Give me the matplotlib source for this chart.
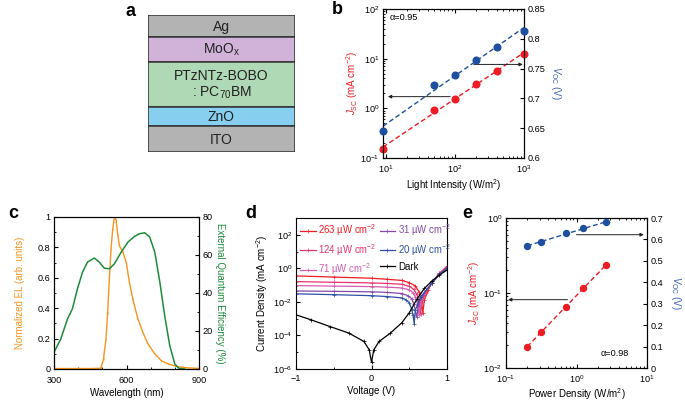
import numpy as np
import matplotlib
matplotlib.use("Agg")
from matplotlib import pyplot as plt
from matplotlib.patches import Rectangle
from matplotlib.ticker import StrMethodFormatter, MultipleLocator, LogLocator, FixedLocator, NullFormatter

plt.rcParams["font.family"] = ["Liberation Sans", "DejaVu Sans"]
plt.rcParams["mathtext.fontset"] = "custom"
plt.rcParams["mathtext.rm"] = "Liberation Sans"
plt.rcParams["mathtext.it"] = "Liberation Sans:italic"
plt.rcParams["mathtext.bf"] = "Liberation Sans:bold"
plt.rcParams["font.size"] = 6.6
plt.rcParams["axes.linewidth"] = 0.8
plt.rcParams["xtick.direction"] = "in"
plt.rcParams["ytick.direction"] = "in"
plt.rcParams["xtick.major.size"] = 3
plt.rcParams["ytick.major.size"] = 3
plt.rcParams["xtick.minor.size"] = 1.6
plt.rcParams["ytick.minor.size"] = 1.6
plt.rcParams["xtick.major.pad"] = 3.5
plt.rcParams["ytick.major.pad"] = 2.5

RED = "#EE1C25"
BLUE = "#1F4FA0"
ORANGE = "#F7941D"
GREEN = "#1E8B3A"

# ---- panel a: device stack (top to bottom)
layer_names = ["Ag", "MoO$_\\mathrm{x}$", "PTzNTz-BOBO\n: PC$_{70}$BM", "ZnO", "ITO"]
layer_thick = [22, 25, 45, 19, 26]
layer_colors = ["#B3B3B3", "#D1B3D9", "#AFD8B4", "#86CFEF", "#B3B3B3"]

# ---- panel b: light intensity dependence
b_int = [9, 50, 100, 200, 400, 1000]
b_jsc = [0.152, 0.94, 1.54, 3.04, 5.56, 12.6]
b_voc = [0.646, 0.7225, 0.740, 0.765, 0.786, 0.8136]

# ---- panel c: EL and EQE spectra
el_wl = [300, 350, 400, 450, 494, 505, 515, 522, 529, 536, 543, 550, 557, 564, 571, 585,
         599, 612, 626, 647, 668, 689, 717, 744, 772, 814, 856, 900]
el_val = [0.003, 0.003, 0.003, 0.003, 0.005, 0.066, 0.2, 0.37, 0.59, 0.79, 0.92, 1.0, 0.98,
          0.88, 0.81, 0.77, 0.70, 0.57, 0.46, 0.33, 0.24, 0.165, 0.10, 0.055, 0.033, 0.015,
          0.007, 0.004]
eqe_wl = [300, 328, 356, 376, 397, 418, 439, 467, 487, 508, 529, 550, 578, 606, 633, 654,
          675, 696, 717, 738, 758, 779, 800, 817, 842]
eqe_val = [8.8, 15.8, 26.4, 31.6, 42.2, 51, 56.3, 58.4, 56.3, 53.1, 52.7, 55.4, 61.5, 66.8,
           69.8, 71.2, 71.7, 69.5, 61.5, 45.7, 28.1, 12.3, 2.6, 0.35, 0.0]

# ---- panel d: J-V curves (log10 of |J|)
d_labels = ["263 µW cm$^{-2}$", "124 µW cm$^{-2}$", "71 µW cm$^{-2}$",
            "31 µW cm$^{-2}$", "20 µW cm$^{-2}$", "Dark"]
d_colors = ["#EE1C25", "#E8336D", "#D45CB0", "#8548A8", "#2E4FA3", "black"]
d_v = [
    [-1, -0.5, 0, 0.2, 0.4, 0.5, 0.58, 0.63, 0.66, 0.68, 0.7, 0.75, 0.8, 0.9, 1.0],
    [-1, -0.5, 0, 0.2, 0.4, 0.5, 0.56, 0.6, 0.63, 0.65, 0.67, 0.72, 0.8, 0.9, 1.0],
    [-1, -0.5, 0, 0.2, 0.4, 0.5, 0.55, 0.58, 0.61, 0.63, 0.65, 0.7, 0.8, 0.9, 1.0],
    [-1, -0.5, 0, 0.2, 0.4, 0.48, 0.53, 0.56, 0.58, 0.6, 0.62, 0.68, 0.8, 0.9, 1.0],
    [-1, -0.5, 0, 0.2, 0.4, 0.46, 0.5, 0.53, 0.55, 0.565, 0.58, 0.65, 0.8, 0.9, 1.0],
    [-1, -0.8, -0.55, -0.3, -0.1, -0.03, 0, 0.03, 0.1, 0.25, 0.4, 0.5, 0.6, 0.7, 0.8, 0.9, 1.0],
]
d_logj = [
    [-0.45, -0.52, -0.59, -0.65, -0.72, -0.85, -1.05, -1.4, -1.9, -2.65, -1.9, -1.3, -0.85, -0.3, 0.12],
    [-0.79, -0.83, -0.87, -0.9, -0.95, -1.07, -1.25, -1.55, -2.0, -2.7, -2.0, -1.45, -0.85, -0.3, 0.08],
    [-1.03, -1.06, -1.09, -1.12, -1.17, -1.28, -1.45, -1.7, -2.15, -2.8, -2.1, -1.5, -0.85, -0.32, 0.05],
    [-1.35, -1.37, -1.4, -1.43, -1.5, -1.62, -1.8, -2.1, -2.5, -2.9, -2.2, -1.6, -0.88, -0.33, 0.02],
    [-1.52, -1.57, -1.63, -1.68, -1.76, -1.88, -2.05, -2.4, -2.8, -3.3, -2.5, -1.7, -0.9, -0.35, 0.0],
    [-2.77, -3.07, -3.47, -3.86, -4.36, -4.86, -5.6, -4.86, -4.36, -3.86, -3.25, -2.65, -1.85, -1.2, -0.75, -0.4, -0.1],
]

# ---- panel e: power density dependence
e_pow = [0.2, 0.31, 0.71, 1.24, 2.63]
e_jsc = [0.019, 0.030, 0.066, 0.115, 0.236]
e_voc = [0.568, 0.590, 0.628, 0.652, 0.680]

W, H = 685, 401
fig = plt.figure(figsize=(W / 100, H / 100), dpi=100)


def px_axes(x0, y0, x1, y1):
    return fig.add_axes([x0 / W, 1 - y1 / H, (x1 - x0) / W, (y1 - y0) / H])


def arrow(ax, start, end):
    ax.annotate("", xy=end, xytext=start,
                arrowprops=dict(arrowstyle="-|>", color="#222222", lw=0.7,
                                mutation_scale=5, shrinkA=0, shrinkB=0))


def loglin_fit(x, y, logy):
    lx = np.log10(x)
    yy = np.log10(y) if logy else np.asarray(y)
    p = np.polyfit(lx, yy, 1)
    return p


# panel a
ax = px_axes(148, 15, 295, 152)
ax.set_xlim(0, 1)
total = sum(layer_thick)
ax.set_ylim(total, 0)
ax.axis("off")
top = 0
for name, th, col in zip(layer_names, layer_thick, layer_colors):
    ax.add_patch(Rectangle((0, top), 1, th, facecolor=col, edgecolor="#333333", lw=1.1))
    ax.text(0.5, top + th / 2 + 0.5, name, ha="center", va="center", fontsize=10,
            linespacing=1.15, color="#222222")
    top += th
fig.text(125 / W, 1 - 12 / H, "a", fontsize=13, fontweight="bold", ha="left", va="center")

# panel b
ax = px_axes(383, 9, 524, 158)
ax.set_xscale("log")
ax.set_yscale("log")
ax.set_xlim(9, 1000)
ax.set_ylim(0.1, 100)
ax2 = ax.twinx()
ax2.set_ylim(0.6, 0.85)
xf = np.array([9, 1000])
p = loglin_fit(b_int, b_jsc, True)
ax.plot(xf, 10 ** np.polyval(p, np.log10(xf)), "--", color=RED, lw=1.0, dashes=(3.5, 2))
ax.plot(b_int, b_jsc, "o", color=RED, ms=4.8, clip_on=False, zorder=5)
p = loglin_fit(b_int, b_voc, False)
ax2.plot(xf, np.polyval(p, np.log10(xf)), "--", color=BLUE, lw=1.0, dashes=(3.5, 2))
ax2.plot(b_int, b_voc, "o", color=BLUE, ms=4.8, clip_on=False, zorder=5)
arrow(ax, (85, 1.72), (10.6, 1.72))
arrow(ax2, (187, 0.757), (960, 0.757))
ax.text(0.05, 0.94, "α=0.95", transform=ax.transAxes, ha="left", va="center", fontsize=6.6)
ax.set_xlabel("Light Intensity (W/m$^2$)", fontsize=7, labelpad=2)
ax.set_ylabel("$J_{\\mathrm{SC}}$ (mA cm$^{-2}$)", color=RED, fontsize=7, labelpad=0.5)
ax2.set_ylabel("$V_{\\mathrm{OC}}$ (V)", color="#3A62B0", fontsize=7, rotation=270, labelpad=13)
ax2.yaxis.set_major_locator(MultipleLocator(0.05))
ax2.yaxis.set_major_formatter(StrMethodFormatter("{x:g}"))
ax2.tick_params(axis="y", direction="in")
ax.tick_params(which="both", top=True)
ax.yaxis.set_minor_locator(LogLocator(base=10, subs=np.arange(2, 10)))
ax.yaxis.set_minor_formatter(NullFormatter())
fig.text(332 / W, 1 - 10 / H, "b", fontsize=13, fontweight="bold", ha="left", va="center")

# panel c
ax = px_axes(54, 217, 199, 369)
ax.plot(el_wl, el_val, "-", marker="|", ms=1.8, mew=0.4, color=ORANGE, lw=1.0)
ax.set_xlim(300, 900)
ax.set_ylim(0, 1)
ax.xaxis.set_major_locator(MultipleLocator(300))
ax.xaxis.set_minor_locator(MultipleLocator(100))
ax.yaxis.set_major_locator(MultipleLocator(0.2))
ax.yaxis.set_minor_locator(MultipleLocator(0.1))
ax.yaxis.set_major_formatter(StrMethodFormatter("{x:g}"))
ax.tick_params(axis="x", pad=5)
ax.set_xlabel("Wavelength (nm)", fontsize=7, labelpad=2)
ax.set_ylabel("Normalized EL (arb. units)", color=ORANGE, fontsize=7, labelpad=9)
ax2 = ax.twinx()
ax2.plot(eqe_wl, eqe_val, "-", color=GREEN, lw=1.1)
ax2.set_ylim(0, 80)
ax2.yaxis.set_major_locator(MultipleLocator(20))
ax2.yaxis.set_minor_locator(MultipleLocator(10))
ax2.tick_params(which="both", direction="in")
ax2.set_ylabel("External Quantum Efficiency (%)", color=GREEN, fontsize=7, rotation=270, labelpad=9)
fig.text(8 / W, 1 - 213 / H, "c", fontsize=13, fontweight="bold", ha="left", va="center")

# panel d
ax = px_axes(296, 218, 447, 369)
for v, lj, lab, col in zip(d_v, d_logj, d_labels, d_colors):
    ax.plot(v, 10 ** np.asarray(lj), "-", marker="+", ms=2.2, mew=0.5, lw=0.9,
            color=col, label=lab)
ax.set_yscale("log")
ax.set_xlim(-1, 1)
ax.set_ylim(1e-6, 1e3)
ax.yaxis.set_major_locator(FixedLocator([1e-6, 1e-4, 1e-2, 1e0, 1e2]))
ax.yaxis.set_minor_locator(FixedLocator([1e-5, 1e-3, 1e-1, 1e1, 1e3]))
ax.yaxis.set_minor_formatter(NullFormatter())
ax.xaxis.set_major_locator(MultipleLocator(1))
ax.xaxis.set_minor_locator(MultipleLocator(0.5))
ax.xaxis.set_major_formatter(StrMethodFormatter("{x:g}"))
ax.set_xlabel("Voltage (V)", fontsize=7, labelpad=2)
ax.set_ylabel("Current Density (mA cm$^{-2}$)", fontsize=7, labelpad=2)
h, l = ax.get_legend_handles_labels()
ax.legend(h, l, ncol=2, loc="upper left", bbox_to_anchor=(-0.01, 1.01),
          frameon=False, fontsize=6.9, labelcolor="linecolor", handlelength=1.6,
          handletextpad=0.3, columnspacing=0.3, borderaxespad=0.2, labelspacing=0.4)
fig.text(245 / W, 1 - 213 / H, "d", fontsize=13, fontweight="bold", ha="left", va="center")

# panel e
ax = px_axes(506, 218, 647, 368)
ax.set_xscale("log")
ax.set_yscale("log")
ax.set_xlim(0.1, 10)
ax.set_ylim(0.01, 1)
ax2 = ax.twinx()
ax2.set_ylim(0, 0.7)
p = loglin_fit(e_pow, e_jsc, True)
xf = np.array([e_pow[0], e_pow[-1]])
ax.plot(xf, 10 ** np.polyval(p, np.log10(xf)), "--", color=RED, lw=1.0, dashes=(3.5, 2))
ax.plot(e_pow, e_jsc, "o", color=RED, ms=4.3, zorder=5)
p = loglin_fit(e_pow, e_voc, False)
ax2.plot(xf, np.polyval(p, np.log10(xf)), "--", color=BLUE, lw=1.0, dashes=(3.5, 2))
ax2.plot(e_pow, e_voc, "o", color=BLUE, ms=4.3, zorder=5)
arrow(ax, (0.745, 0.0815), (0.107, 0.0815))
arrow(ax2, (1.0, 0.622), (9.0, 0.622))
ax.text(0.67, 0.095, "α=0.98", transform=ax.transAxes, ha="left", va="center", fontsize=6.6)
ax.set_xlabel("Power Density (W/m$^2$)", fontsize=7, labelpad=1)
ax.set_ylabel("$J_{\\mathrm{SC}}$ (mA cm$^{-2}$)", color=RED, fontsize=7, labelpad=1)
ax2.set_ylabel("$V_{\\mathrm{OC}}$ (V)", color="#3A62B0", fontsize=7, rotation=270, labelpad=14)
ax2.yaxis.set_major_locator(MultipleLocator(0.1))
ax2.yaxis.set_major_formatter(StrMethodFormatter("{x:g}"))
ax2.tick_params(axis="y", direction="in")
ax.tick_params(which="both", top=True)
ax.yaxis.set_minor_locator(LogLocator(base=10, subs=np.arange(2, 10)))
ax.yaxis.set_minor_formatter(NullFormatter())
fig.text(462 / W, 1 - 213 / H, "e", fontsize=13, fontweight="bold", ha="left", va="center")

fig.savefig("out.png", dpi=100)
